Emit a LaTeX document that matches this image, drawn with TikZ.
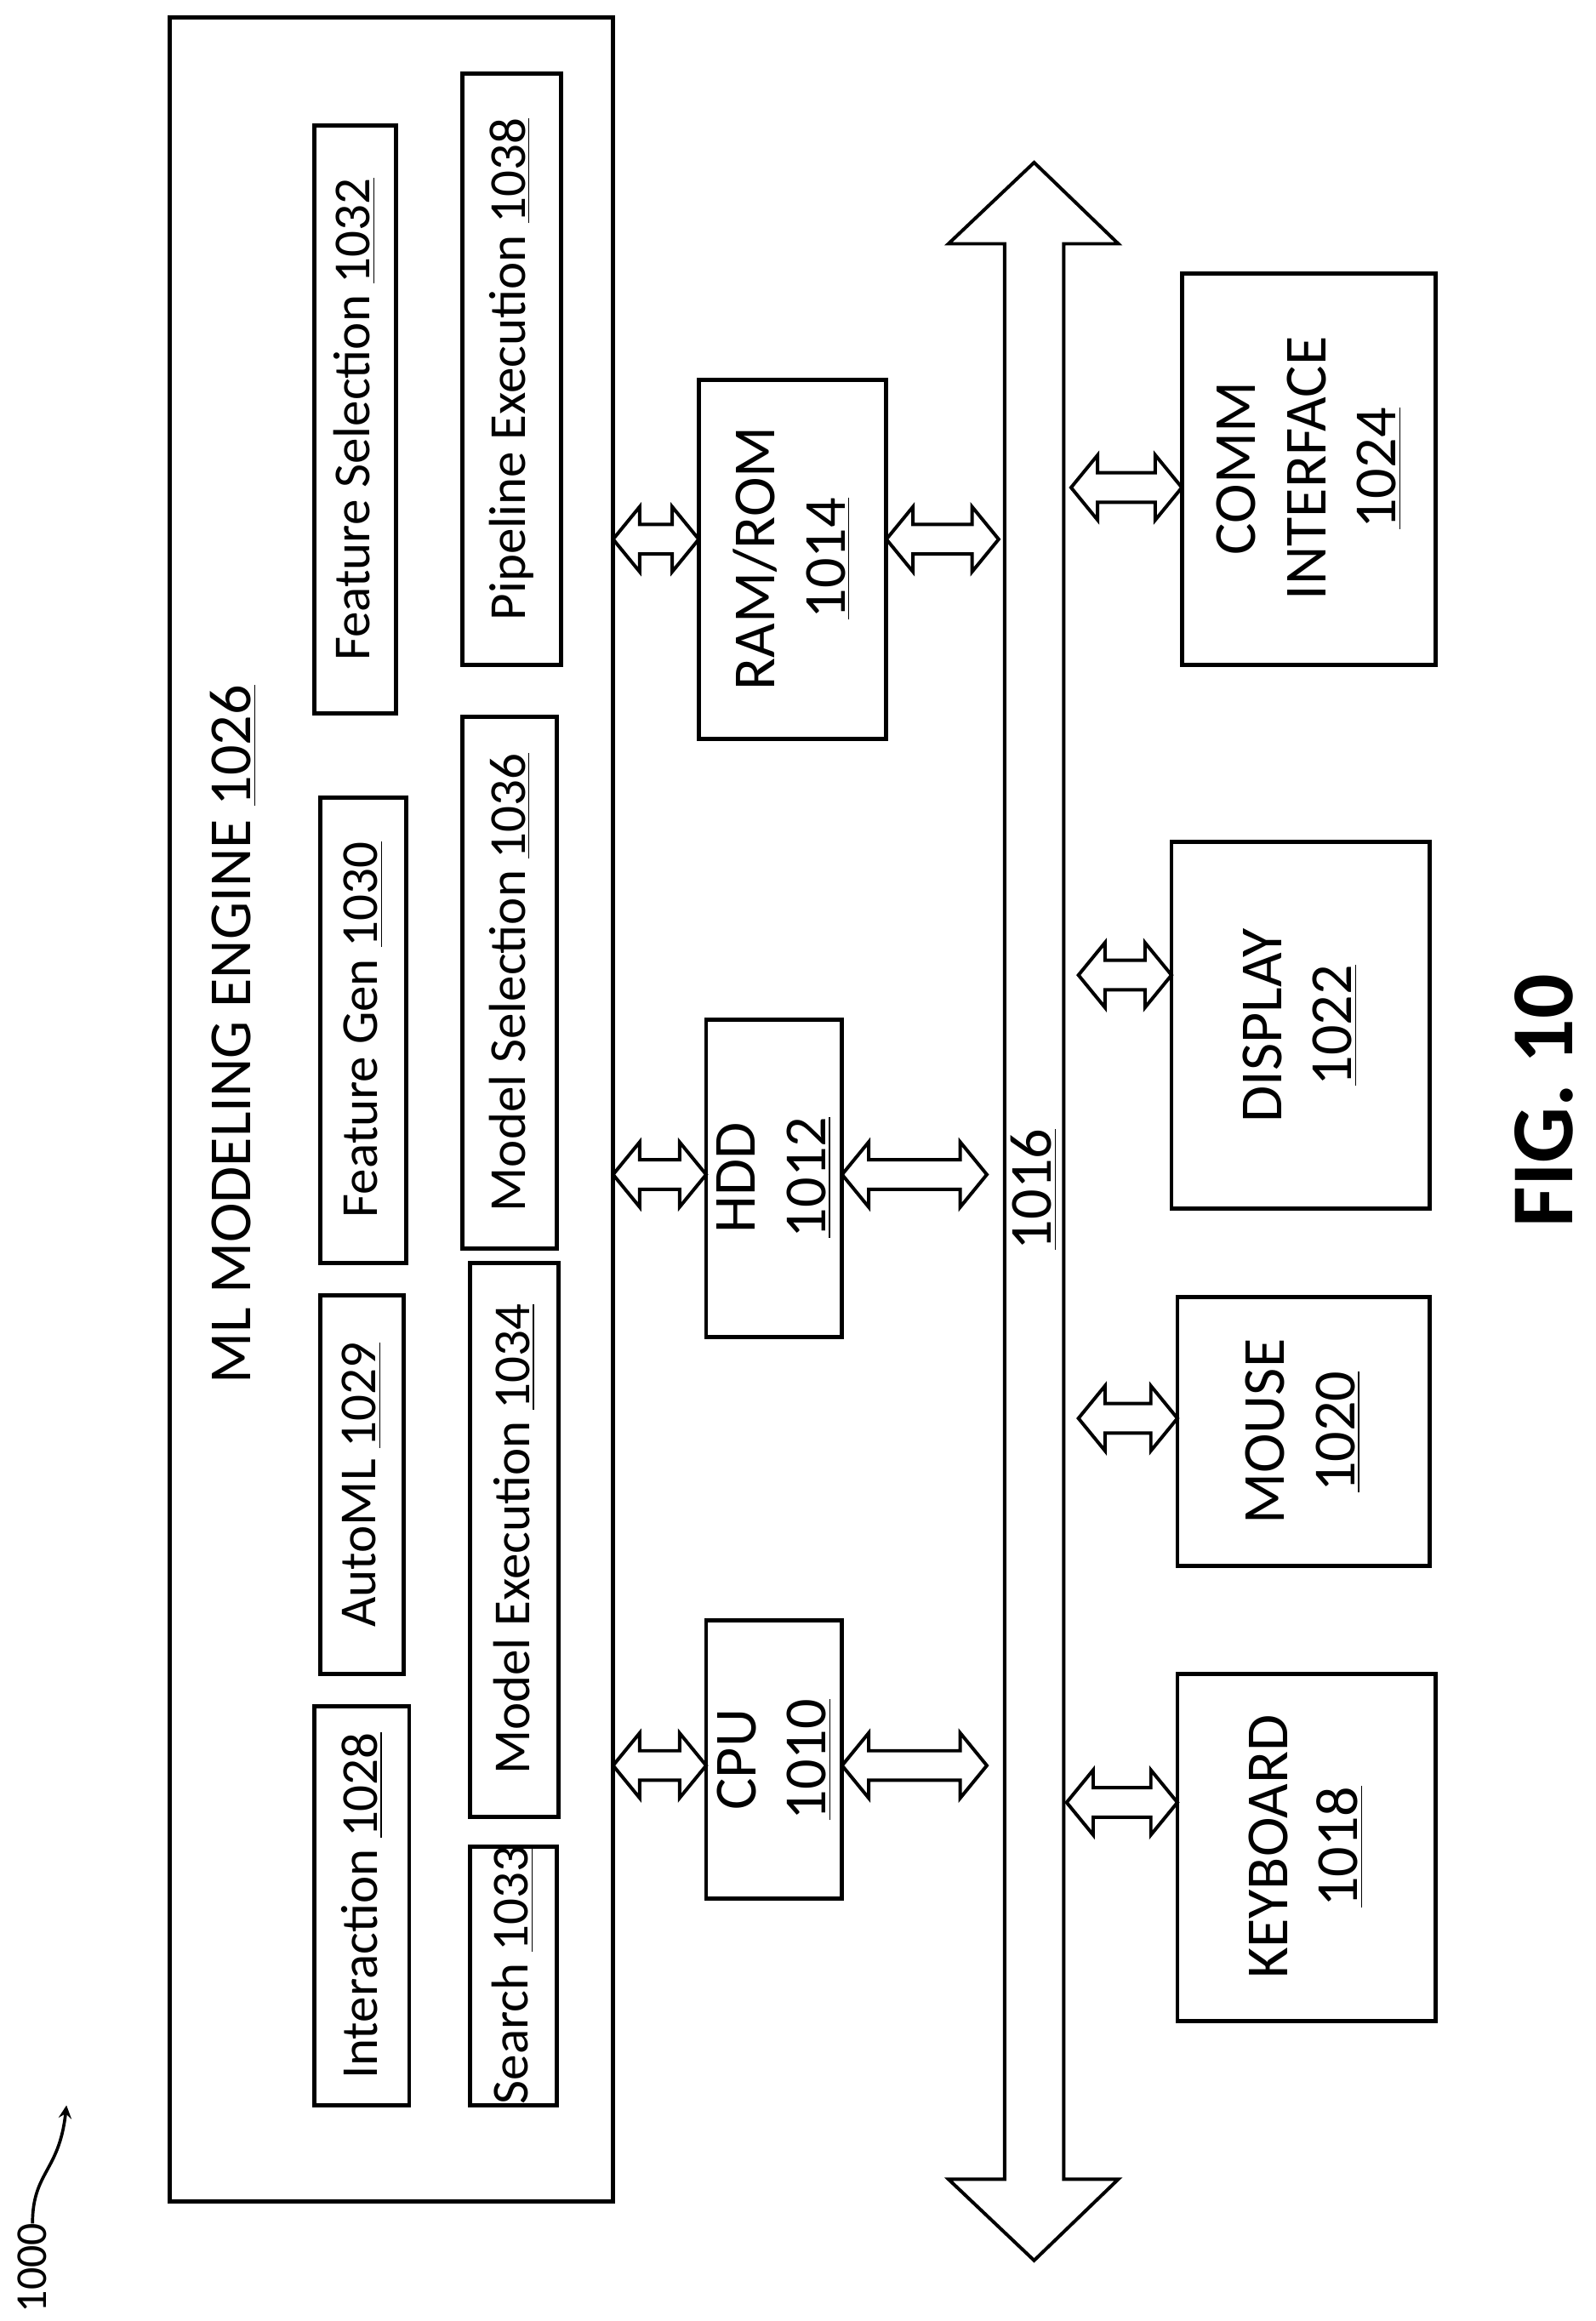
\documentclass[tikz,border=0pt]{standalone}
\usepackage{fontspec}
\setmainfont{Carlito}
\begin{document}
\begin{tikzpicture}[x=0.02cm,y=-0.02cm,
  box/.style={draw,line width=1.6pt,inner sep=0},
  txt/.style={rotate=90,font=\fontsize{20}{23}\selectfont,align=center},
  big/.style={rotate=90,font=\fontsize{23}{27}\selectfont,align=center},
  arr/.style={draw,line width=1.3pt,fill=white}]
\useasboundingbox (0,0) rectangle (1080,1571);
\newcommand\hdbl[3]{% x1 x2 y
  \path[arr] (#1,#3) -- (#1+18,#3-22) -- (#1+18,#3-10) -- (#2-18,#3-10) -- (#2-18,#3-22) -- (#2,#3)
   -- (#2-18,#3+22) -- (#2-18,#3+10) -- (#1+18,#3+10) -- (#1+18,#3+22) -- cycle;}
% engine
\draw[box] (115,12) rectangle (415,1490);
\node[big] (title) at (158,700) {ML MODELING ENGINE \underline{1026}};
\draw[box] (213,1155) rectangle (277,1425); \node[txt] (i) at (245,1290) {Interaction \underline{1028}};
\draw[box] (217,877) rectangle (273,1133); \node[txt] (a) at (245,1005) {AutoML \underline{1029}};
\draw[box] (217,540) rectangle (275,855); \node[txt] (fg) at (246,697) {Feature Gen \underline{1030}};
\draw[box] (213,85) rectangle (268,483); \node[txt] (fs) at (240,284) {Feature Selection \underline{1032}};
\draw[box] (318,1250) rectangle (377,1425); \node[txt] (s) at (347,1337) {Search \underline{1033}};
\draw[box] (318,855) rectangle (378,1230); \node[txt] (me) at (348,1042) {Model Execution \underline{1034}};
\draw[box] (313,485) rectangle (377,845); \node[txt] (ms) at (345,665) {Model Selection \underline{1036}};
\draw[box] (313,50) rectangle (380,450); \node[txt] (pe) at (346,250) {Pipeline Execution \underline{1038}};
% cpu etc
\draw[box] (478,1097) rectangle (570,1285); \node[big] (cpu) at (524,1191) {CPU\\\underline{1010}};
\draw[box] (478,690) rectangle (570,905); \node[big] (hdd) at (524,797) {HDD\\\underline{1012}};
\draw[box] (473,257) rectangle (600,500); \node[big] (ram) at (536,378) {RAM/ROM\\\underline{1014}};
% bus
\path[arr] (700,110) -- (757,165) -- (720,165) -- (720,1475) -- (757,1475) -- (700,1530)
  -- (642,1475) -- (680,1475) -- (680,165) -- (642,165) -- cycle;
\node[big] (bus) at (700,805) {\underline{1016}};
% peripherals
\draw[box] (797,1133) rectangle (972,1368); \node[big] (kb) at (884,1250) {KEYBOARD\\\underline{1018}};
\draw[box] (797,878) rectangle (968,1060); \node[big] (mo) at (882,969) {MOUSE\\\underline{1020}};
\draw[box] (793,570) rectangle (968,818); \node[big] (di) at (880,694) {DISPLAY\\\underline{1022}};
\draw[box] (800,185) rectangle (972,450); \node[big] (ci) at (886,317) {COMM\\INTERFACE\\\underline{1024}};
% small arrows
\hdbl{415}{478}{1195}
\hdbl{415}{478}{795}
\hdbl{415}{473}{365}
\hdbl{570}{668}{1195}
\hdbl{570}{668}{795}
\hdbl{600}{676}{365}
\hdbl{722}{797}{1220}
\hdbl{730}{797}{960}
\hdbl{730}{793}{660}
\hdbl{725}{800}{330}
% fig
\node[rotate=90,font=\bfseries\fontsize{34}{40}\selectfont] (fig) at (1045,745) {FIG. 10};
\node[rotate=90,font=\fontsize{17}{20}\selectfont] (ref) at (22,1535) {1000};
\coordinate (rt) at (45,1425);
\draw[line width=1.2pt,-stealth] (22,1505) .. controls (22,1470) and (40,1470) .. (rt);
\end{tikzpicture}
\end{document}
